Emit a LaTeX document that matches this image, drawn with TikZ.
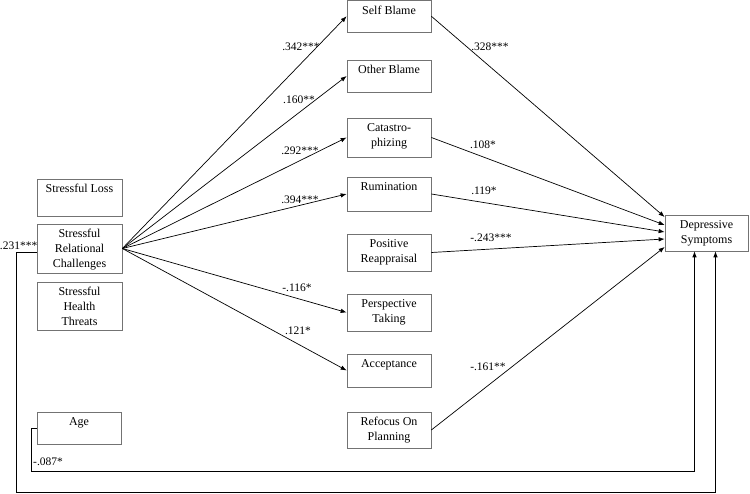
\documentclass[tikz,border=0pt]{standalone}
\usepackage{fontspec}
\setmainfont{Liberation Serif}
\usetikzlibrary{arrows.meta,calc}
\begin{document}
\begin{tikzpicture}[x=1pt,y=-1pt,
  box/.style={draw=black!55, line width=0.7pt, inner sep=0pt},
  txt/.style={font=\fontsize{12}{15}\selectfont, align=center, inner sep=0pt, anchor=north},
  lab/.style={font=\fontsize{11.5}{14}\selectfont, inner sep=0pt},
  ln/.style={line width=0.7pt},
  arr/.style={line width=0.7pt, -{Latex[length=6pt,width=4.5pt]}}]
\useasboundingbox (0,0) rectangle (750,494);
% ---- boxes ----
\newcommand\mybx[6]{%
  \node[box, minimum width={#4-#2}, minimum height={#5-#3}] (#1) at ({(#2+#4)/2},{(#3+#5)/2}) {};
  \node[txt] (#1t) at ([yshift=-5.5pt]#1.north) {#6};}
\mybx{sl}{37}{179}{122}{216}{Stressful Loss}
\mybx{src}{37}{224}{122}{273}{Stressful\\Relational\\Challenges}
\mybx{sht}{37}{282}{122}{330}{Stressful\\Health\\Threats}
\mybx{age}{37}{412}{121}{444}{Age}
\mybx{sb}{347}{0.5}{431}{32}{Self Blame}
\mybx{ob}{347}{60}{431}{92}{Other Blame}
\mybx{ca}{347}{118}{431}{157}{Catastro-\\phizing}
\mybx{ru}{347}{177}{431}{211}{Rumination}
\mybx{pr}{347}{234}{431}{271}{Positive\\Reappraisal}
\mybx{pt}{347}{294}{431}{331}{Perspective\\Taking}
\mybx{ac}{347}{354}{431}{387}{Acceptance}
\mybx{rp}{347}{412}{431}{448}{Refocus On\\Planning}
\mybx{ds}{665}{215}{748}{251}{Depressive\\Symptoms}
% ---- arrows from stressor ----
\foreach \t in {sb,ob,ca,ru,pt,ac}
  \draw[arr] (src.east) -- (\t.west);
% ---- arrows to outcome ----
\draw[arr] (sb.east) -- ([yshift=16pt]ds.west);
\draw[arr] (ca.east) -- ([yshift=8pt]ds.west);
\draw[arr] (ru.east) -- ([yshift=1pt]ds.west);
\draw[arr] (pr.east) -- ([yshift=-6pt]ds.west);
\draw[arr] (rp.east) -- ([yshift=-14pt]ds.west);
% ---- direct paths ----
\coordinate (c1) at (16,492);
\coordinate (c2) at (31,471);
\coordinate (dsA) at ([xshift=-12pt]ds.south);
\coordinate (dsB) at ([xshift=9pt]ds.south);
\coordinate (srcW) at ([yshift=-4pt]src.west);
\draw[arr] (srcW) -- (srcW -| c1) -- (c1) -- (c1 -| dsB) -- (dsB);
\draw[arr] (age.west) -- (age.west -| c2) -- (c2) -- (c2 -| dsA) -- (dsA);
% ---- labels ----
\node[lab, anchor=east] (l1) at (37.5,246) {.231***};
\node[lab, anchor=west] (l2) at (33,462) {-.087*};
\node[lab] (l3) at (301,47) {.342***};
\node[lab] (l4) at (299,100) {.160**};
\node[lab] (l5) at (300,151) {.292***};
\node[lab] (l6) at (300,200) {.394***};
\node[lab] (l7) at (297,288) {-.116*};
\node[lab] (l8) at (298,331) {.121*};
\node[lab] (l9) at (490,47) {.328***};
\node[lab] (l10) at (483,145) {.108*};
\node[lab] (l11) at (484,191) {.119*};
\node[lab] (l12) at (491,238) {-.243***};
\node[lab] (l13) at (488,367) {-.161**};
\end{tikzpicture}
\end{document}
